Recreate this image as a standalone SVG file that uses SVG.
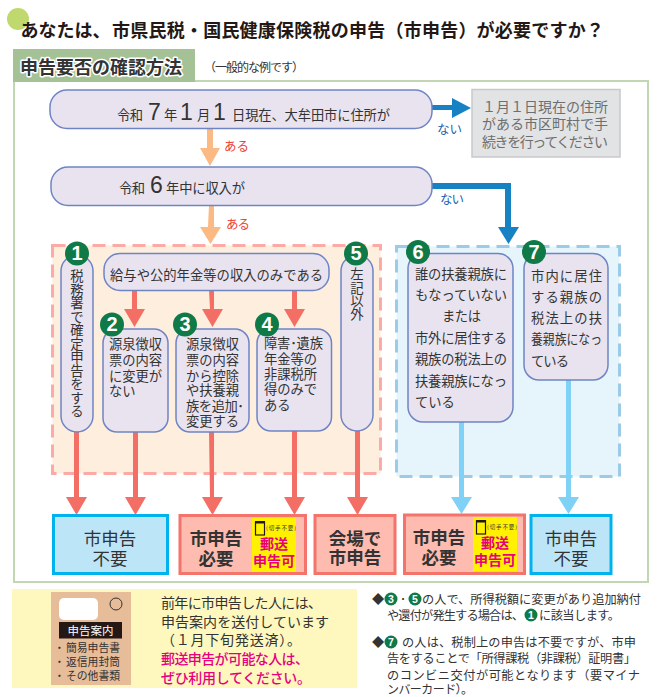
<svg xmlns="http://www.w3.org/2000/svg" width="667" height="697" viewBox="0 0 667 697">
<style>
text{font-family:"Noto Sans CJK JP","Noto Sans",sans-serif;dominant-baseline:central;fill:#333}
.n{fill:#e9e3f0;stroke:#6f85c3;stroke-width:1.5}
.t{font-size:13.3px}
.bd{fill:#0f7a48}
.bn{font-family:"Liberation Sans",sans-serif;font-weight:bold;font-size:20px;fill:#fff;text-anchor:middle}
.sb{font-family:"Liberation Sans",sans-serif;font-weight:bold;font-size:10.5px;fill:#fff;text-anchor:middle}
.dg{font-family:"Liberation Sans",sans-serif;font-size:23px;fill:#333}
.v{font-size:13.4px;text-anchor:middle}
.or{fill:#fbb984}.rd{fill:#f36f65}.lb{fill:#7fd1f6}.db{fill:#1682c4}
.yes{font-size:12.5px;fill:#ee4035}.no{font-size:12.5px;fill:#1d5fae}
.gr{font-size:14px;fill:#6e6e6e}
.b1{fill:#bde5f8;stroke:#00b3ef;stroke-width:3}
.b2{fill:#fdbcaf;stroke:#f4736a;stroke-width:3}
.rn{font-size:17.5px;text-anchor:middle}
.rb{font-size:17.5px;font-weight:bold;text-anchor:middle}
.y{fill:#fff100}
.m{font-size:14px;font-weight:bold;fill:#e6007e;text-anchor:middle}
.s{font-size:5.5px}
.ic{fill:none;stroke:#231815;stroke-width:1.2}
.f{font-size:12.2px}
.p{font-size:14px}
.pk{font-size:14px;fill:#e6007e;font-weight:500}
.en{font-size:10.8px}
.ti{font-size:18px;font-weight:bold;fill:#231815}
</style>
<circle cx="18" cy="19" r="11" fill="#bfd96f"/>
<text class="ti" x="20.5" y="29">あなたは、</text>
<text class="ti" x="112" y="29" textLength="492">市県民税・国民健康保険税の申告（市申告）が必要ですか？</text>
<rect x="14" y="81" width="634" height="501" fill="#fff" stroke="#c3d6b4" stroke-width="2"/>
<rect x="13" y="49" width="182" height="33" fill="#a5c196"/>
<text x="20" y="66" font-size="18" font-weight="bold" textLength="162" stroke="#fff" stroke-width="3" paint-order="stroke" stroke-linejoin="round">申告要否の確認方法</text>
<text x="204" y="66" font-size="12" textLength="100" fill="#444">（一般的な例です）</text>
<rect x="52.500" y="245.500" width="328" height="228" fill="#fdeedd" stroke="#fcaaa5" stroke-width="3" stroke-dasharray="13 7"/>
<rect x="396.500" y="246.500" width="223" height="230" fill="#e6f5fc" stroke="#9ccbe8" stroke-width="3" stroke-dasharray="13 7"/>
<g id="connectors">
<path class="or" d="M207 129h6v19h7l-10 18-10-18h7z"/>
<path class="or" d="M209 205h5v22h7l-10.500 17-10.500-17h8z"/>
<path class="db" d="M432 105h20v-7l19 10-19 10v-8h-20z"/>
<path class="db" d="M432 183h79v44h8l-10.500 17-10.500-17h7v-38h-73z"/>
<path class="rd" d="M132 290h5v19h8l-10.500 18-10.500-18h8z"/>
<path class="rd" d="M209 290h5v19h9l-10.500 18-10.500-18h8z"/>
<path class="rd" d="M292 290h5v19h8l-10.500 18-10.500-18h8z"/>
<path class="rd" d="M74 432h5v65h8l-10.500 18-10.500-18h8z"/>
<path class="rd" d="M133 432h5v65h8l-10.500 18-10.500-18h8z"/>
<path class="rd" d="M209 432h5v65h9l-10.500 18-10.500-18h8z"/>
<path class="rd" d="M292 431h5v66h8l-10.500 18-10.500-18h8z"/>
<path class="rd" d="M355 431h5v66h8l-10.500 18-10.500-18h8z"/>
<path class="lb" d="M459 422h5v75h8l-10.500 17-10.500-17h8z"/>
<path class="lb" d="M566 380h5v117h8l-10.500 17-10.500-17h8z"/>
</g>
<text class="yes" x="224" y="145" textLength="25">ある</text>
<text class="yes" x="226" y="223" textLength="24">ある</text>
<text class="no" x="437" y="128" textLength="25">ない</text>
<text class="no" x="440" y="198" textLength="24">ない</text>
<g id="q1">
<rect class="n" x="50" y="90" width="382" height="38.500" rx="17"/>
<text class="t" x="117" y="114" textLength="26">令和</text>
<text class="dg" x="148" y="112">7</text>
<text class="t" x="164" y="114">年</text>
<text class="dg" x="180" y="112">1</text>
<text class="t" x="197" y="114">月</text>
<text class="dg" x="213" y="112">1</text>
<text class="t" x="232" y="114" textLength="158">日現在、大牟田市に住所が</text>
</g>
<g id="q1no">
<rect x="472" y="89.500" width="148" height="67.500" fill="#e2e3e5" stroke="#c8c9ca" stroke-width="1.500"/>
<text class="gr" x="482" y="106" textLength="126">１月１日現在の住所</text>
<text class="gr" x="482" y="123" textLength="126">がある市区町村で手</text>
<text class="gr" x="482" y="141" textLength="126">続きを行ってください</text>
</g>
<g id="q2">
<rect class="n" x="51" y="167" width="381" height="38.500" rx="17"/>
<text class="t" x="119" y="187" textLength="26">令和</text>
<text class="dg" x="150" y="185">6</text>
<text class="t" x="166" y="187" textLength="79">年中に収入が</text>
</g>
<g id="q3">
<rect class="n" x="104" y="253.500" width="225" height="37" rx="16"/>
<text class="t" x="110" y="274" textLength="213">給与や公的年金等の収入のみである</text>
</g>
<g id="n1">
<rect class="n" x="61" y="255" width="32" height="177" rx="16"/>
<circle class="bd" cx="77" cy="253.500" r="12"/><text class="bn" x="77" y="253">1</text>
<text class="v" x="77 77 77 77 77 77 77 77 77 77 77" y="275 288.500 302 315.500 329 342.500 356 369.500 383 396.500 410">税務署で確定申告をする</text>
</g>
<g id="n2">
<rect class="n" x="103" y="329" width="65" height="103" rx="14"/>
<circle class="bd" cx="112" cy="324.500" r="12"/><text class="bn" x="112" y="324">2</text>
<text class="t" x="109" y="343" textLength="53">源泉徴収</text>
<text class="t" x="109" y="359" textLength="53">票の内容</text>
<text class="t" x="109" y="375" textLength="53">に変更が</text>
<text class="t" x="109" y="390">ない</text>
</g>
<g id="n3">
<rect class="n" x="176" y="329" width="73" height="103" rx="14"/>
<circle class="bd" cx="185" cy="324.500" r="12"/><text class="bn" x="185" y="324">3</text>
<text class="t" x="186" y="343" textLength="53">源泉徴収</text>
<text class="t" x="186" y="359" textLength="53">票の内容</text>
<text class="t" x="186" y="375" textLength="53">から控除</text>
<text class="t" x="186" y="389" textLength="53">や扶養親</text>
<text class="t" x="186" y="405" textLength="58">族を追加･</text>
<text class="t" x="186" y="420" textLength="53">変更する</text>
</g>
<g id="n4">
<rect class="n" x="257" y="329" width="74.500" height="102" rx="14"/>
<circle class="bd" cx="267" cy="324.500" r="12"/><text class="bn" x="267" y="324">4</text>
<text class="t" x="264" y="342" textLength="59">障害･遺族</text>
<text class="t" x="264" y="358" textLength="53">年金等の</text>
<text class="t" x="264" y="373" textLength="53">非課税所</text>
<text class="t" x="264" y="388" textLength="53">得のみで</text>
<text class="t" x="264" y="404">ある</text>
</g>
<g id="n5">
<rect class="n" x="341" y="255" width="32" height="176" rx="16"/>
<circle class="bd" cx="356" cy="253.500" r="12"/><text class="bn" x="356" y="253">5</text>
<text class="v" x="357 357 357 357" y="273 286.500 300 313">左記以外</text>
</g>
<g id="n6">
<rect class="n" x="408" y="253.500" width="105" height="168.500" rx="15"/>
<circle class="bd" cx="418" cy="252" r="12"/><text class="bn" x="418" y="251.500">6</text>
<text class="t" x="415" y="273" textLength="92">誰の扶養親族に</text>
<text class="t" x="415" y="294" textLength="92">もなっていない</text>
<text class="t" x="442" y="315" textLength="39">または</text>
<text class="t" x="415" y="337" textLength="92">市外に居住する</text>
<text class="t" x="415" y="358" textLength="92">親族の税法上の</text>
<text class="t" x="415" y="380" textLength="92">扶養親族になっ</text>
<text class="t" x="415" y="401">ている</text>
</g>
<g id="n7">
<rect class="n" x="524" y="253.500" width="84" height="126.500" rx="15"/>
<circle class="bd" cx="534" cy="252" r="12"/><text class="bn" x="534" y="251.500">7</text>
<text class="t" x="531" y="275" textLength="71">市内に居住</text>
<text class="t" x="531" y="296" textLength="71">する親族の</text>
<text class="t" x="531" y="317" textLength="71">税法上の扶</text>
<text class="t" x="531" y="338" textLength="71" lengthAdjust="spacingAndGlyphs">養親族になっ</text>
<text class="t" x="531" y="360" textLength="38">ている</text>
</g>
<g id="r1">
<rect class="b1" x="53.500" y="515.500" width="114" height="58"/>
<text class="rn" x="110" y="537">市申告</text><text class="rn" x="110" y="557">不要</text>
</g>
<g id="r2">
<rect class="b2" x="180" y="515.500" width="125.500" height="58"/>
<text class="rb" x="216" y="537">市申告</text><text class="rb" x="216" y="557">必要</text>
<rect class="y" x="252" y="518" width="44" height="54"/>
<rect class="ic" x="255.500" y="522" width="9" height="13"/><rect x="255" y="521" width="10" height="2.500" fill="#231815"/>
<text class="s" x="266" y="528" textLength="30">(切手不要)</text>
<text class="m" x="274" y="543">郵送</text><text class="m" x="274" y="560">申告可</text>
</g>
<g id="r3">
<rect class="b2" x="315" y="515.500" width="80" height="58"/>
<text class="rb" x="355" y="537">会場で</text><text class="rb" x="355" y="556">市申告</text>
</g>
<g id="r4">
<rect class="b2" x="404.500" y="515" width="120" height="58.500"/>
<text class="rb" x="439" y="536">市申告</text><text class="rb" x="439" y="556">必要</text>
<rect class="y" x="473" y="517" width="44" height="54"/>
<rect class="ic" x="476.500" y="521" width="9" height="13"/><rect x="476" y="520" width="10" height="2.500" fill="#231815"/>
<text class="s" x="487" y="527" textLength="30">(切手不要)</text>
<text class="m" x="495" y="542">郵送</text><text class="m" x="495" y="559">申告可</text>
</g>
<g id="r5">
<rect class="b1" x="531" y="515.500" width="80" height="58"/>
<text class="rn" x="571" y="537">市申告</text><text class="rn" x="571" y="557">不要</text>
</g>
<g id="notice">
<rect x="12" y="589" width="345" height="99" fill="#fef8bf"/>
<rect x="51" y="592" width="80" height="93" fill="#e6bc99"/>
<rect x="59" y="598" width="39" height="22" rx="5" fill="#fff"/>
<circle cx="116" cy="604" r="6" fill="none" stroke="#333" stroke-width="1"/>
<rect x="59" y="622" width="63" height="16.500" fill="#231815"/>
<text x="90.500" y="630" font-size="11.5" text-anchor="middle" style="fill:#fff">申告案内</text>
<text class="en" x="54" y="647">・</text><text class="en" x="66" y="647" textLength="54">簡易申告書</text>
<text class="en" x="54" y="661">・</text><text class="en" x="66" y="661" textLength="54">返信用封筒</text>
<text class="en" x="54" y="675">・</text><text class="en" x="66" y="675" textLength="54">その他書類</text>
<text class="p" x="161" y="602" textLength="161">前年に市申告した人には、</text>
<text class="p" x="161" y="621" textLength="168">申告案内を送付しています</text>
<text class="p" x="161" y="639" textLength="140">（１月下旬発送済）。</text>
<text class="pk" x="161" y="658" textLength="148">郵送申告が可能な人は、</text>
<text class="pk" x="161" y="677" textLength="150">ぜひ利用してください。</text>
</g>
<g id="notes">
<text class="f" x="372" y="599">◆</text>
<circle class="bd" cx="391" cy="599" r="6.500"/><text class="sb" x="391" y="599">3</text>
<text class="f" x="400" y="599">･</text>
<circle class="bd" cx="415" cy="599" r="6.500"/><text class="sb" x="415" y="599">5</text>
<text class="f" x="422" y="599" textLength="219">の人で、所得税額に変更があり追加納付</text>
<text class="f" x="387" y="615" textLength="137">や還付が発生する場合は、</text>
<circle class="bd" cx="531" cy="615" r="6.500"/><text class="sb" x="531" y="615">1</text>
<text class="f" x="539" y="615" textLength="81">に該当します。</text>
<text class="f" x="372" y="642">◆</text>
<circle class="bd" cx="391" cy="642" r="6.500"/><text class="sb" x="391" y="642">7</text>
<text class="f" x="402" y="642" textLength="234">の人は、税制上の申告は不要ですが、市申</text>
<text class="f" x="387" y="658" textLength="249">告をすることで「所得課税（非課税）証明書」</text>
<text class="f" x="387" y="675" textLength="253">のコンビニ交付が可能となります（要マイナ</text>
<text class="f" x="387" y="688" textLength="86" style="font-size:12px">ンバーカード）。</text>
</g>
</svg>
